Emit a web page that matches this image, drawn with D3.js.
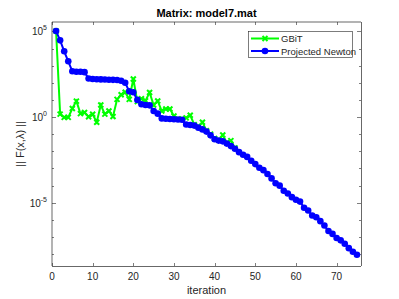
<!DOCTYPE html>
<html>
<head>
<meta charset="utf-8">
<script src="https://cdn.jsdelivr.net/npm/d3@7"></script>
<style>
  body { margin: 0; background: #fff; }
  svg { display: block; font-family: "Liberation Sans", Arial, sans-serif; }
</style>
</head>
<body>
<svg id="main" width="399" height="299"></svg>
<script>
const width = 399;
const height = 299;
const position = { left: 52, top: 22, right: 38, bottom: 33 };
const innerWidth = width - position.left - position.right;
const innerHeight = height - position.top - position.bottom;

// residual norms, one per iteration starting at 1
const newtonValues = [
    1.05e5, 3.0e4, 6.9e3, 1.8e3, 468, 437, 437, 417, 178, 166,
    162, 158, 155, 151, 148, 145, 132, 100, 31.6, 28.2,
    10, 5.6, 5.0, 4.8, 2.24, 1.58, 0.83, 0.79, 0.76, 0.74,
    0.72, 0.69, 0.37, 0.34, 0.316, 0.24, 0.19, 0.141, 0.085, 0.05,
    0.042, 0.038, 0.028, 0.02, 0.0141, 8.9e-3, 6.3e-3, 4.7e-3, 2.8e-3, 1.78e-3,
    1.1e-3, 7.9e-4, 4.7e-4, 2.6e-4, 1.35e-4, 9.8e-5, 5.0e-5, 3.4e-5, 2.1e-5, 1.48e-5,
    1.15e-5, 5.0e-6, 3.5e-6, 1.78e-6, 1.41e-6, 8.3e-7, 4.6e-7, 2.2e-7, 1.5e-7, 8.7e-8,
    6.3e-8, 4.0e-8, 2.2e-8, 1.35e-8, 9.1e-9
];
const gbitValues = [
    1.05e5, 1.48, 0.95, 0.95, 3.16, 8.5, 1.58, 1.82, 1.05, 1.45,
    0.5, 5.0, 1.48, 2.24, 1.07, 10.7, 20, 28.2, 10.7, 166,
    7.9, 11.7, 8.9, 26.9, 5.0, 8.7, 2.24, 2.95, 2.95, 1.15,
    0.76, 0.76, 0.89, 1.26, 0.355, 0.28, 0.5, 0.158, 0.1, 0.056,
    0.045, 0.089, 0.032, 0.042, 0.0158
];
const seriesNames = ['GBiT', 'Projected Newton'];
const xTicks = [0, 10, 20, 30, 40, 50, 60, 70];
const yMajorExponents = [5, 0, -5];
const yMinorExponents = [-8, -7, -6, -5, -4, -3, -2, -1, 0, 1, 2, 3, 4, 5];

const axisColor = '#262626';
const green = '#00ff00';
const blue = '#0000ff';

const svg = d3.select('#main');
const g = svg.append('g')
    .attr('transform', `translate(${position.left}, ${position.top})`);

const x = d3.scaleLinear().domain([0, 76]).range([0, innerWidth]);
const y = d3.scaleLog().domain([Math.pow(10, -8.7), Math.pow(10, 5.55)]).range([innerHeight, 0]);

// ticks (inward, on all four sides like matlab's box on)
const tickLen = 3;
xTicks.forEach(t => {
    const px = Math.round(x(t)) + 0.5;
    g.append('line').attr('x1', px).attr('x2', px).attr('y1', innerHeight).attr('y2', innerHeight - tickLen)
        .attr('stroke', axisColor).attr('stroke-width', 0.6);
    g.append('line').attr('x1', px).attr('x2', px).attr('y1', 0).attr('y2', tickLen)
        .attr('stroke', axisColor).attr('stroke-width', 0.6);
    g.append('text')
        .attr('x', x(t)).attr('y', innerHeight + 14)
        .attr('text-anchor', 'middle')
        .attr('font-size', 10).attr('fill', axisColor)
        .text(t);
});
yMinorExponents.forEach(e => {
    const py = Math.round(y(Math.pow(10, e))) + 0.5;
    const len = yMajorExponents.includes(e) ? tickLen + 1 : tickLen - 1;
    g.append('line').attr('x1', 0).attr('x2', len).attr('y1', py).attr('y2', py)
        .attr('stroke', axisColor).attr('stroke-width', 0.6);
    g.append('line').attr('x1', innerWidth).attr('x2', innerWidth - len).attr('y1', py).attr('y2', py)
        .attr('stroke', axisColor).attr('stroke-width', 0.6);
});
yMajorExponents.forEach(e => {
    const t = g.append('text')
        .attr('x', -5).attr('y', y(Math.pow(10, e)) + 4)
        .attr('text-anchor', 'end')
        .attr('font-size', 10).attr('fill', axisColor);
    t.append('tspan').text('10');
    t.append('tspan').attr('dy', -5).attr('font-size', 7).text(e);
});

// box
const box = [
    [0, 0, innerWidth, 0],
    [innerWidth + 0.5, 0, innerWidth + 0.5, innerHeight],
    [0, innerHeight + 0.5, innerWidth, innerHeight + 0.5],
    [0, 0, 0, innerHeight]
];
box.forEach(b => {
    g.append('line')
        .attr('x1', b[0]).attr('y1', b[1]).attr('x2', b[2]).attr('y2', b[3])
        .attr('stroke', axisColor).attr('stroke-width', 0.7);
});

const line = d3.line()
    .x((d, i) => x(i + 1))
    .y(d => y(d));

// GBiT
g.append('path')
    .datum(gbitValues)
    .attr('d', line)
    .attr('fill', 'none')
    .attr('stroke', green)
    .attr('stroke-width', 2);
const cross = s => `M${-s},${-s}L${s},${s}M${-s},${s}L${s},${-s}`;
g.selectAll('.gbit-mark')
    .data(gbitValues)
    .join('path')
    .attr('class', 'gbit-mark')
    .attr('transform', (d, i) => `translate(${x(i + 1)}, ${y(d)})`)
    .attr('d', cross(2.5))
    .attr('stroke', green)
    .attr('stroke-width', 2);

// Projected Newton
g.append('path')
    .datum(newtonValues)
    .attr('d', line)
    .attr('fill', 'none')
    .attr('stroke', blue)
    .attr('stroke-width', 2);
g.selectAll('.pn-mark')
    .data(newtonValues)
    .join('circle')
    .attr('class', 'pn-mark')
    .attr('cx', (d, i) => x(i + 1))
    .attr('cy', d => y(d))
    .attr('r', 3.3)
    .attr('fill', blue);

// legend
const legend = svg.append('g').attr('transform', 'translate(248, 31)');
legend.append('rect')
    .attr('x', 0.5).attr('y', 0.5)
    .attr('width', 104).attr('height', 26)
    .attr('fill', '#fff').attr('stroke', axisColor).attr('stroke-width', 0.6);
[green, blue].forEach((c, i) => {
    const ly = 7.5 + i * 12.5;
    legend.append('line')
        .attr('x1', 3).attr('x2', 31).attr('y1', ly).attr('y2', ly)
        .attr('stroke', c).attr('stroke-width', 2);
    if (i === 0) {
        legend.append('path')
            .attr('transform', `translate(17, ${ly})`)
            .attr('d', cross(2.5))
            .attr('stroke', c).attr('stroke-width', 2);
    } else {
        legend.append('circle')
            .attr('cx', 17).attr('cy', ly).attr('r', 3.3).attr('fill', c);
    }
    legend.append('text')
        .attr('x', 33).attr('y', ly + 3.5)
        .attr('font-size', 9.5).attr('fill', axisColor)
        .text(seriesNames[i]);
});

// title & labels
svg.append('text')
    .attr('x', position.left + innerWidth / 2).attr('y', 17)
    .attr('text-anchor', 'middle')
    .attr('font-size', 11).attr('font-weight', 'bold').attr('fill', '#000')
    .text('Matrix: model7.mat');
svg.append('text')
    .attr('x', position.left + innerWidth / 2).attr('y', 294)
    .attr('text-anchor', 'middle')
    .attr('font-size', 11).attr('fill', axisColor)
    .text('iteration');
svg.append('text')
    .attr('transform', `translate(24, ${position.top + innerHeight / 2}) rotate(-90)`)
    .attr('text-anchor', 'middle')
    .attr('font-size', 11).attr('fill', axisColor)
    .text('|| F(x,λ) ||');
</script>
</body>
</html>
